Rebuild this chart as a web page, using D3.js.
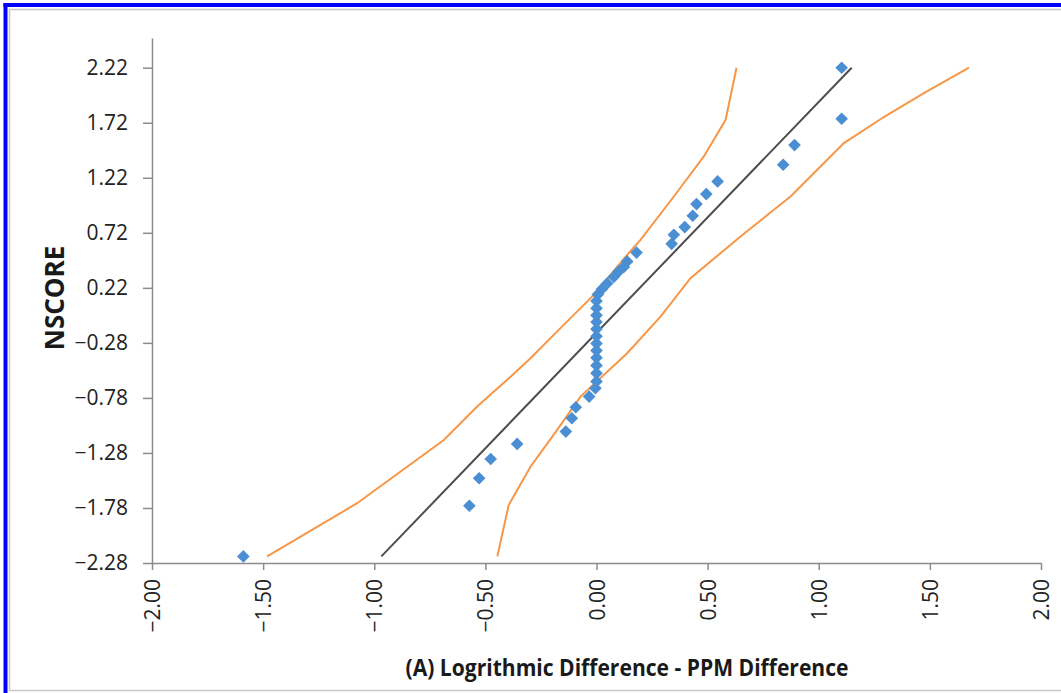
<!DOCTYPE html>
<html>
<head>
<meta charset="utf-8">
<script src="https://cdn.jsdelivr.net/npm/d3@7"></script>
<style>
  html, body { margin: 0; padding: 0; background: #ffffff; }
  svg { display: block; }
</style>
</head>
<body>
<svg id="chart" width="1061" height="693"></svg>
<script>
// ---------- data ----------
const xTicks = [-2.0, -1.5, -1.0, -0.5, 0.0, 0.5, 1.0, 1.5, 2.0];
const yTicks = [-2.28, -1.78, -1.28, -0.78, -0.28, 0.22, 0.72, 1.22, 1.72, 2.22];
const xDomain = [-2.0, 2.0];
const yDomain = [-2.28, 2.49];

// observed points: difference (x) and normal score (y)
const pointDiff = [
  -1.589, -0.572, -0.528, -0.476, -0.357, -0.138, -0.111, -0.093, -0.033, -0.005,
  0.0, 0.0, 0.0, 0.0, 0.0, 0.0, 0.0, 0.0, 0.0, 0.0, 0.0, 0.0,
  0.006, 0.025, 0.048, 0.078, 0.100, 0.123, 0.138, 0.180,
  0.338, 0.348, 0.397, 0.433, 0.450, 0.494, 0.545, 0.840, 0.891, 1.103, 1.103
];
const pointNscore = [
  -2.22, -1.76, -1.51, -1.335, -1.198, -1.086, -0.965, -0.865, -0.768, -0.692,
  -0.63, -0.555, -0.485, -0.415, -0.35, -0.285, -0.22, -0.155, -0.09, -0.03, 0.035, 0.10,
  0.16, 0.21, 0.26, 0.32, 0.37, 0.41, 0.46, 0.54,
  0.62, 0.702, 0.772, 0.875, 0.981, 1.072, 1.187, 1.338, 1.517, 1.756, 2.22
];

// fitted line
const fitDiff = [-0.968, 1.148];
const fitNscore = [-2.22, 2.22];

// upper confidence band (left orange curve)
const upperDiff = [-1.482, -1.077, -0.687, -0.537, -0.402, -0.297, -0.170, -0.012, 0.138, 0.198, 0.348, 0.483, 0.581, 0.630];
const upperNscore = [-2.22, -1.737, -1.162, -0.859, -0.616, -0.419, -0.162, 0.156, 0.52, 0.656, 1.05, 1.414, 1.747, 2.22];

// lower confidence band (right orange curve)
const lowerDiff = [-0.446, -0.395, -0.297, -0.177, -0.072, 0.138, 0.288, 0.423, 0.648, 0.873, 1.113, 1.293, 1.473, 1.676];
const lowerNscore = [-2.22, -1.753, -1.405, -1.071, -0.768, -0.374, -0.041, 0.308, 0.686, 1.05, 1.535, 1.772, 1.99, 2.22];

const xTitle = "(A) Logrithmic Difference - PPM Difference";
const yTitle = "NSCORE";

// ---------- drawing ----------
const svg = d3.select("#chart");
const W = 1061, H = 693;
const plot = { left: 152, right: 1041, top: 38, bottom: 563 };

// frame
svg.append("rect").attr("x", 0).attr("y", 0).attr("width", W).attr("height", H).attr("fill", "#ffffff");
svg.append("rect").attr("x", 9.5).attr("y", 9.5).attr("width", W + 20).attr("height", 681)
  .attr("fill", "none").attr("stroke", "#c8c8c8").attr("stroke-width", 1.5);
svg.append("line").attr("x1", 5.5).attr("x2", 5.5).attr("y1", 3).attr("y2", H)
  .attr("stroke", "#0000ff").attr("stroke-width", 4);
svg.append("line").attr("x1", 3.5).attr("x2", W).attr("y1", 5).attr("y2", 5)
  .attr("stroke", "#0000ff").attr("stroke-width", 4);

const x = d3.scaleLinear().domain(xDomain).range([plot.left, plot.right]);
const y = d3.scaleLinear().domain(yDomain).range([plot.bottom, plot.top]);

const fmt = d3.format(".2f");
const axisColor = "#8c8c8c";
const labelColor = "#222222";
const font = "'Open Sans', 'Noto Sans', sans-serif";

// y axis
const yAxis = svg.append("g").attr("transform", `translate(${plot.left},0)`)
  .call(d3.axisLeft(y).tickValues(yTicks).tickFormat(fmt).tickSize(9).tickSizeOuter(0).tickPadding(15));
yAxis.select(".domain").attr("stroke", axisColor).attr("stroke-width", 1.5);
yAxis.selectAll(".tick line").attr("stroke", axisColor).attr("stroke-width", 1.5);
yAxis.selectAll(".tick text").attr("fill", labelColor).style("font-family", font).style("font-size", "21px");

// x axis
const xAxis = svg.append("g").attr("transform", `translate(0,${plot.bottom})`)
  .call(d3.axisBottom(x).tickValues(xTicks).tickFormat(fmt).tickSize(7).tickSizeOuter(0));
xAxis.select(".domain").attr("stroke", axisColor).attr("stroke-width", 1.5);
xAxis.selectAll(".tick line").attr("stroke", axisColor).attr("stroke-width", 1.5);
xAxis.selectAll(".tick text")
  .attr("fill", labelColor).style("font-family", font).style("font-size", "21px")
  .attr("transform", "rotate(-90)")
  .attr("x", -16).attr("y", 0).attr("dy", "0.36em")
  .attr("text-anchor", "end");

// titles
const xt = svg.append("text")
  .attr("x", 627).attr("y", 676)
  .attr("text-anchor", "middle")
  .attr("fill", "#1a1a1a")
  .style("font-family", font).style("font-size", "24px").style("font-weight", "bold")
  .text(xTitle);
const yt = svg.append("text")
  .attr("transform", "translate(64,298) rotate(-90)")
  .attr("text-anchor", "middle")
  .attr("fill", "#1a1a1a")
  .style("font-family", font).style("font-size", "26px").style("font-weight", "bold")
  .text(yTitle);
// fit titles to reference widths
function fitWidth(sel, target) {
  const w = sel.node().getComputedTextLength();
  if (w > target) sel.attr("textLength", target).attr("lengthAdjust", "spacingAndGlyphs");
}
fitWidth(xt, 443);
fitWidth(yt, 117);

// lines
const line = d3.line().x(d => x(d[0])).y(d => y(d[1]));
const zip = (a, b) => a.map((v, i) => [v, b[i]]);

svg.append("path").datum(zip(upperDiff, upperNscore))
  .attr("d", line).attr("fill", "none").attr("stroke", "#f79646").attr("stroke-width", 2);
svg.append("path").datum(zip(lowerDiff, lowerNscore))
  .attr("d", line).attr("fill", "none").attr("stroke", "#f79646").attr("stroke-width", 2);
svg.append("path").datum(zip(fitDiff, fitNscore))
  .attr("d", line).attr("fill", "none").attr("stroke", "#4d4d4d").attr("stroke-width", 2);

// points (diamonds)
const diamond = d3.symbol().type(d3.symbolSquare).size(80);
svg.append("g").selectAll("path")
  .data(zip(pointDiff, pointNscore))
  .join("path")
  .attr("d", diamond)
  .attr("transform", d => `translate(${x(d[0])},${y(d[1])}) rotate(45)`)
  .attr("fill", "#4a8fd4");
</script>
</body>
</html>
